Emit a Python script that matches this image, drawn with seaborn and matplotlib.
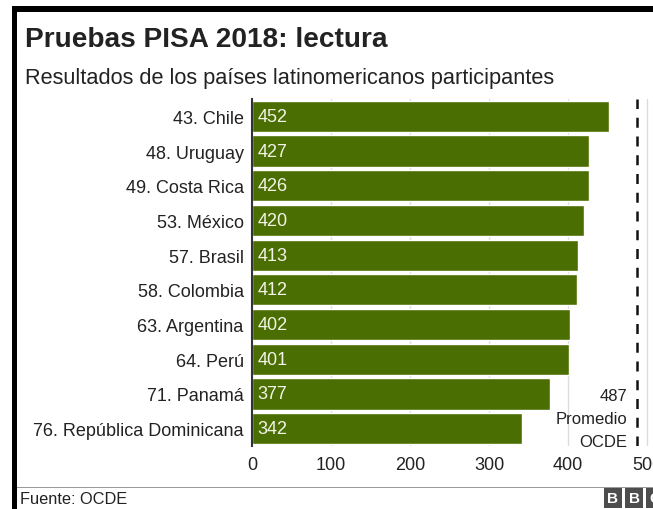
import matplotlib
matplotlib.use("Agg")
import matplotlib.pyplot as plt
from matplotlib.patches import Rectangle
import seaborn as sns
import pandas as pd

# PISA 2018 reading scores, Latin American participants
countries = [
    "43. Chile", "48. Uruguay", "49. Costa Rica", "53. México", "57. Brasil",
    "58. Colombia", "63. Argentina", "64. Perú", "71. Panamá",
    "76. República Dominicana",
]
scores = [452, 427, 426, 420, 413, 412, 402, 401, 377, 342]
oecd_average = 487
x_ticks = [0, 100, 200, 300, 400, 500]

title = "Pruebas PISA 2018: lectura"
subtitle = "Resultados de los países latinomericanos participantes"
source = "Fuente: OCDE"

BAR = "#4b6e02"
TEXT = "#222222"

sns.set_theme(style="white")
plt.rcParams["font.family"] = ["Liberation Sans", "DejaVu Sans"]

df = pd.DataFrame({"country": countries, "score": scores})

fig = plt.figure(figsize=(6.53, 5.10), dpi=100)
fig.patch.set_facecolor("white")
ax = fig.add_axes([252 / 653, 63 / 510, 403 / 653, 347 / 510])

sns.barplot(data=df, x="score", y="country", color=BAR, saturation=1,
            width=0.9, ax=ax, zorder=3)
ax.set_xlim(0, 403 / 0.79)
ax.set_xticks(x_ticks)
ax.set_xticklabels([str(t) for t in x_ticks])
ax.set_xlabel("")
ax.set_ylabel("")
ax.grid(axis="x", color="#dcdcdc", linewidth=1, zorder=0)
ax.grid(axis="y", visible=False)
for side in ["top", "right", "bottom"]:
    ax.spines[side].set_visible(False)
ax.spines["left"].set_color("#333333")
ax.spines["left"].set_linewidth(1.5)
ax.spines["left"].set_zorder(5)
ax.tick_params(axis="both", length=0, labelsize=13, labelcolor=TEXT)
ax.tick_params(axis="y", pad=6)
ax.tick_params(axis="x", pad=7)

# score labels inside the start of each bar
for i, v in enumerate(scores):
    ax.annotate(str(v), xy=(0, i), xytext=(4, 0), textcoords="offset points",
                va="center", ha="left", fontsize=13, color="#f2f5e6",
                zorder=6)

# OECD average reference line
ax.axvline(oecd_average, color="#111111", linewidth=1.8,
           linestyle=(0, (4, 3.5)), zorder=4)
ax.annotate(f"{oecd_average}\nPromedio\nOCDE", xy=(oecd_average, 9.5),
            xytext=(-7, -2), textcoords="offset points", ha="right",
            va="bottom", fontsize=12, color=TEXT, linespacing=1.65,
            zorder=6)

# headings
fig.text(25 / 653, 1 - 47 / 510, title, fontsize=20.2, fontweight="bold",
         color=TEXT, va="baseline")
fig.text(25 / 653, 1 - 84 / 510, subtitle, fontsize=15.7, color=TEXT,
         va="baseline")

# footer rule and source
fig.add_artist(Rectangle((17 / 653, 1 - 489 / 510), 1, 1.5 / 510,
                         transform=fig.transFigure, color="#9a9a9a",
                         linewidth=0))
fig.text(20 / 653, 1 - 504 / 510, source, fontsize=11.8, color=TEXT,
         va="baseline")
for k, letter in enumerate("BBC"):
    fig.text((613 + 21 * k) / 653, 1 - 499 / 510, letter, fontsize=11,
             fontweight="bold", color="white", ha="center", va="center",
             bbox=dict(boxstyle="square,pad=0.22", fc="#4d4d4d", ec="none"))

# black frame edges along the top and left
fig.add_artist(Rectangle((12 / 653, 0), 5 / 653, 1 - 7 / 510,
                         transform=fig.transFigure, color="black",
                         linewidth=0))
fig.add_artist(Rectangle((12 / 653, 1 - 13 / 510), 1, 6 / 510,
                         transform=fig.transFigure, color="black",
                         linewidth=0))

fig.savefig("out.png", dpi=100, facecolor="white")
